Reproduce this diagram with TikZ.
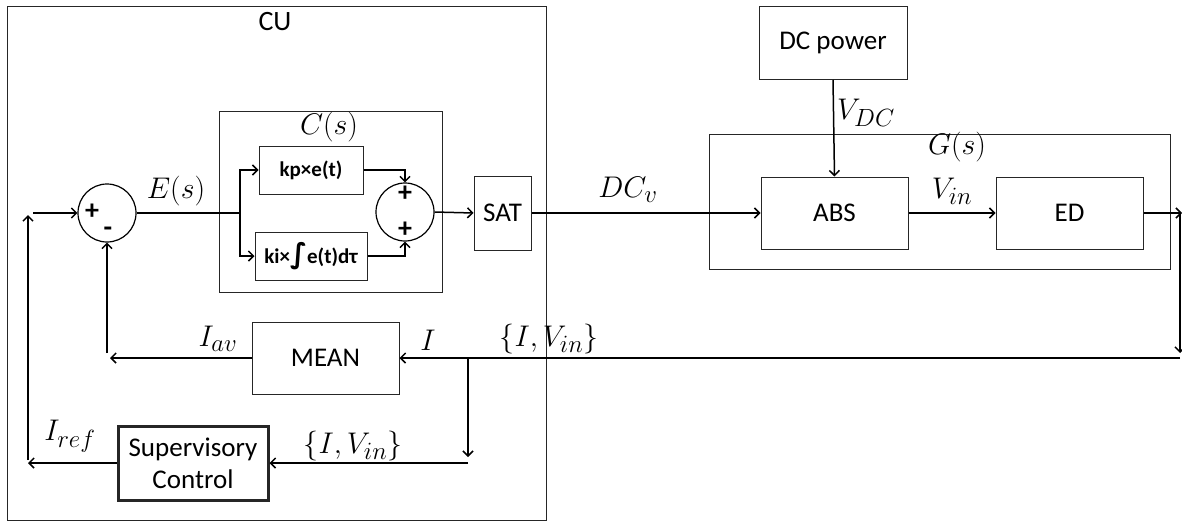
\documentclass[tikz,border=0pt]{standalone}
\usepackage{graphicx}
\usepackage{fontspec}
\setmainfont{Carlito}
\newfontfamily\djv{DejaVu Sans}
\usetikzlibrary{arrows.meta}
\newcommand\mlb[1]{\scalebox{1.2}{$#1$}}
\begin{document}
\begin{tikzpicture}[x=1pt,y=-1pt,
  every node/.style={font=\fontsize{27}{32}\selectfont},
  box/.style={draw=black!85,line width=1pt,inner sep=0pt,rectangle},
  sumc/.style={draw=black,line width=1.2pt,circle,inner sep=0pt,minimum size=58pt},
  arr/.style={line width=1.5pt,-{Straight Barb[length=5pt,width=10pt,line width=1.5pt]}},
  ln/.style={line width=1.5pt},
  mlab/.style={font=\fontsize{24.88}{30}\selectfont},
  sgn/.style={font=\fontsize{28}{32}\selectfont\bfseries},
  small/.style={font=\fontsize{21}{25}\selectfont\bfseries}]
\useasboundingbox (0,0) rectangle (1182,525);
% frames
\node[box,minimum width=539pt,minimum height=514pt] (cu) at (276.5,263) {};
\node[font=\fontsize{28}{32}\selectfont] (cul) at (275,22) {CU};
\node[box,minimum width=223pt,minimum height=181pt] (cs) at (330.5,201.5) {};
\node[mlab] (csl) at (329,127) {\mlb{C(s)}};
\node[box,minimum width=461pt,minimum height=135pt] (gs) at (939.5,201.5) {};
\node[mlab] (gsl) at (957,147) {\mlb{G(s)}};
% blocks
\node[sumc] (s1) at (107,213) {};
\node[sgn] (s1p) at (92,212) {+};
\node[sgn] (s1m) at (108,232) {-};
\node[box,minimum width=104pt,minimum height=48pt,small] (kp) at (311,170) {kp×e(t)};
\node[box,minimum width=112pt,minimum height=48pt,small] (ki) at (311,256) {ki×{\djv\bfseries\fontsize{28}{30}\selectfont∫}e(t)dτ};
\node[sumc] (s2) at (405,212) {};
\node[sgn] (s2a) at (405,194) {+};
\node[sgn] (s2b) at (405,230) {+};
\node[box,minimum width=57pt,minimum height=74pt] (sat) at (502.5,213) {SAT};
\node[box,minimum width=148pt,minimum height=73pt] (dcp) at (833,43) {DC power};
\node[box,minimum width=147pt,minimum height=72pt] (abs) at (834.5,213) {ABS};
\node[box,minimum width=147pt,minimum height=72pt] (ed) at (1069.5,213) {ED};
\node[box,minimum width=147pt,minimum height=72pt] (mean) at (325.5,358) {MEAN};
\node[box,line width=3pt,minimum width=150pt,minimum height=74pt,align=center,font=\fontsize{27}{32}\selectfont] (sup) at (193,463) {Supervisory\\Control};
% coordinates
\coordinate (inL) at (33,213);
\coordinate (br1) at (240,213);
\coordinate (edo) at (1182,213);
\coordinate (rtop) at (1180,213);
\coordinate (rbot) at (1180,353);
\coordinate (rret) at (1180,358);
\coordinate (br2) at (468,358);
\coordinate (br2b) at (468,457);
\coordinate (br2c) at (468,463);
\coordinate (iav) at (110,358);
\coordinate (fbv) at (107,353);
\coordinate (iref) at (28,463);
\coordinate (irb) at (28,460);
\coordinate (irt) at (28,215);
% connectors
\draw[arr] (inL) -- (s1.west);
\draw[ln] (s1.east) -- (br1);
\node[mlab] (el) at (176,191) {\mlb{E(s)}};
\draw[arr] (br1) |- (kp.west);
\draw[arr] (br1) |- (ki.west);
\draw[arr] (kp.east) -| (s2.north);
\draw[arr] (ki.east) -| (s2.south);
\draw[arr] (s2.east) -- (sat.west);
\draw[arr] (sat.east) -- (abs.west);
\node[mlab] (dcv) at (628,190) {\mlb{DC_v}};
\draw[arr] (dcp.south) -- (abs.north);
\node[mlab] (vdc) at (866,113) {\mlb{V_{DC}}};
\draw[arr] (abs.east) -- (ed.west);
\node[mlab] (vin) at (952,191) {\mlb{V_{in}}};
\draw[arr] (ed.east) -- (edo);
\draw[arr] (rtop) -- (rbot);
\draw[arr] (rret) -- (mean.east);
\node[mlab] (iv1) at (549,339) {\mlb{\{I,V_{in}\}}};
\node[mlab] (il) at (428,340) {\mlb{I}};
\draw[arr] (br2) -- (br2b);
\draw[arr] (br2c) -- (sup.east);
\node[mlab] (iv2) at (353,446) {\mlb{\{I,V_{in}\}}};
\draw[arr] (mean.west) -- (iav);
\node[mlab] (iavl) at (218,339) {\mlb{I_{av}}};
\draw[arr] (fbv) -- (s1.south);
\draw[arr] (sup.west) -- (iref);
\node[mlab] (irefl) at (70,436) {\mlb{I_{ref}}};
\draw[arr] (irb) -- (irt);
\end{tikzpicture}
\end{document}
